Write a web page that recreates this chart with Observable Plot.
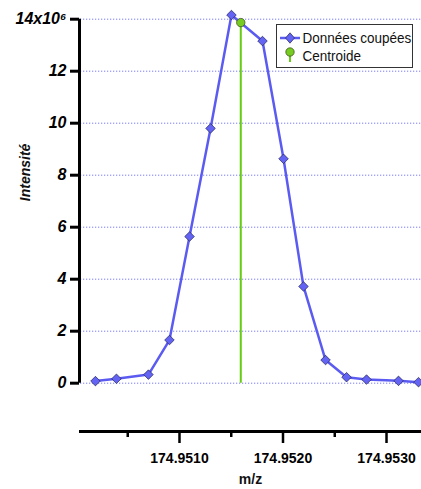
<!DOCTYPE html>
<html>
<head>
<meta charset="utf-8">
<script src="https://cdn.jsdelivr.net/npm/d3@7"></script>
<script src="https://cdn.jsdelivr.net/npm/@observablehq/plot@0.6"></script>
<style>
  html, body { margin: 0; padding: 0; background: #fff; }
  #wrap { position: relative; width: 421px; height: 489px; overflow: hidden; }
  #wrap svg.plot { display: block; }
  g[aria-label="y-axis tick label"] text { font-weight: bold; font-style: italic; }
  g[aria-label="x-axis tick label"] text { font-weight: bold; }
  #legend { position: absolute; left: 276px; top: 24px; width: 137px; height: 44px;
    border: 1px solid #333; background: #fff; box-sizing: border-box;
    font-family: "Liberation Sans", Arial, sans-serif; font-size: 13.5px; color: #111; }
</style>
</head>
<body>
<div id="wrap"></div>
<script>
// m/z values of the cut data points
const mz = [174.950188, 174.950391, 174.950700, 174.950903, 174.951097, 174.951300, 174.951502,
            174.951802, 174.952005, 174.952198, 174.952411, 174.952614, 174.952807, 174.953116, 174.953309];
// intensities (counts)
const intensity = [0.08e6, 0.17e6, 0.33e6, 1.66e6, 5.64e6, 9.80e6, 14.16e6,
                   13.16e6, 8.63e6, 3.72e6, 0.89e6, 0.23e6, 0.14e6, 0.09e6, 0.04e6];
// centroid
const centroidMz = [174.951592];
const centroidIntensity = [13.87e6];
// ticks
const yTicks = [0, 2e6, 4e6, 6e6, 8e6, 10e6, 12e6, 14e6];
const xMajorTicks = [174.9510, 174.9520, 174.9530];
const xMinorTicks = [174.9505, 174.9515, 174.9525];
const seriesLabels = ["Données coupées", "Centroide"];
const xLabel = "m/z";
const yLabel = "Intensité";

const data = mz.map((m, i) => ({mz: m, intensity: intensity[i]}));
const centroid = centroidMz.map((m, i) => ({mz: m, intensity: centroidIntensity[i]}));

const blue = "#5b5bf2";
const green = "#66cc11";
const fontFam = "'Liberation Sans', Arial, sans-serif";
const xMin = 174.950034, xMax = 174.953338;
const yMin = -1.858e6, yMax = 14e6;

const chart = Plot.plot({
  width: 421,
  height: 489,
  marginLeft: 79,
  marginRight: 0,
  marginTop: 18.7,
  marginBottom: 58,
  style: {fontFamily: fontFam, overflow: "visible", background: "white"},
  x: {domain: [xMin, xMax]},
  y: {domain: [yMin, yMax]},
  marks: [
    // dotted grid
    Plot.ruleY(yTicks, {stroke: "#7474ff", strokeWidth: 1, strokeDasharray: "1.2,1.8", x1: xMin + 0.00001, x2: xMax}),
    // axes lines
    Plot.ruleX([xMin], {y1: 0, y2: yMax, stroke: "#000", strokeWidth: 3}),
    Plot.ruleY([yMin], {stroke: "#000", strokeWidth: 3}),
    Plot.axisY(yTicks, {tickSize: 9, strokeWidth: 3, tickPadding: 4, fontSize: 16, fontWeight: "bold", fontStyle: "italic",
      tickFormat: d => d === 14e6 ? "14x10\u2076" : String(d / 1e6), label: null}),
    Plot.axisX(xMajorTicks, {tickSize: 12, strokeWidth: 2.5, tickPadding: 10, fontSize: 14, fontWeight: "bold",
      tickFormat: d => d.toFixed(4), label: null}),
    Plot.axisX(xMinorTicks, {tickSize: 6, strokeWidth: 2.5, tickFormat: () => "", label: null}),
    // axis titles
    Plot.text([xLabel], {frameAnchor: "bottom", dy: 52, fontSize: 14, fontWeight: "bold", fill: "#111"}),
    Plot.text([yLabel], {frameAnchor: "left", y: [7e6], dx: -54, rotate: -90, fontSize: 14, fontWeight: "bold", fontStyle: "italic", fill: "#111"}),
    // centroid stem
    Plot.ruleX(centroid, {x: "mz", y1: 0, y2: "intensity", stroke: green, strokeWidth: 2}),
    // data
    Plot.line(data, {x: "mz", y: "intensity", stroke: blue, strokeWidth: 2.5, strokeLinejoin: "round"}),
    Plot.dot(data, {x: "mz", y: "intensity", symbol: "diamond2", r: 4.3, fill: "#6464f4", stroke: "#222255", strokeWidth: 0.7}),
    Plot.dot(centroid, {x: "mz", y: "intensity", symbol: "circle", r: 4.2, fill: "#77cc22", stroke: "#334411", strokeWidth: 0.7})
  ]
});
chart.classList.add("plot");
document.getElementById("wrap").appendChild(chart);

// legend overlay
const legend = document.createElement("div");
legend.id = "legend";
legend.innerHTML = `
<svg width="137" height="44" style="position:absolute;left:0;top:0">
  <line x1="3" y1="13" x2="23" y2="13" stroke="${blue}" stroke-width="2.5"/>
  <path d="M13,7.8 L17.5,13 L13,18.2 L8.5,13 Z" fill="#6464f4" stroke="#222255" stroke-width="0.7"/>
  <line x1="13" y1="27" x2="13" y2="37" stroke="${green}" stroke-width="2"/>
  <circle cx="13" cy="27" r="4.2" fill="#77cc22" stroke="#334411" stroke-width="0.7"/>
  <text transform="translate(25.5,13) scale(1,1.1)" dy="0.36em" font-size="13.5" fill="#111" style="font-family:${fontFam}">${seriesLabels[0]}</text>
  <text transform="translate(25.5,31) scale(1,1.1)" dy="0.36em" font-size="13.5" fill="#111" style="font-family:${fontFam}">${seriesLabels[1]}</text>
</svg>`;
document.getElementById("wrap").appendChild(legend);
</script>
</body>
</html>
